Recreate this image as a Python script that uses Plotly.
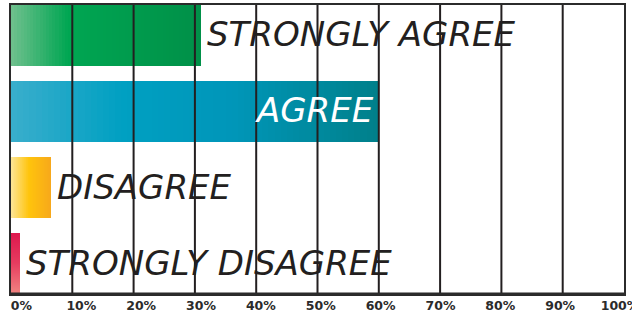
import plotly.graph_objects as go

# ---- data ----
categories = ["STRONGLY AGREE", "AGREE", "DISAGREE", "STRONGLY DISAGREE"]
values = [31, 60, 6.5, 1.5]
tick_values = [0, 10, 20, 30, 40, 50, 60, 70, 80, 90, 100]
tick_labels = ["0%", "10%", "20%", "30%", "40%", "50%", "60%", "70%", "80%", "90%", "100%"]

# ---- styles ----
gradients = {
    "STRONGLY AGREE": [(0.0, (112, 192, 142)), (0.3, (0, 166, 82)), (1.0, (0, 144, 72))],
    "AGREE": [(0.0, (58, 174, 204)), (0.3, (0, 160, 194)), (0.6, (0, 150, 185)), (1.0, (0, 128, 138))],
    "DISAGREE": [(0.0, (253, 229, 150)), (0.45, (255, 196, 12)), (1.0, (247, 168, 27))],
    "STRONGLY DISAGREE": [(0.0, (222, 24, 78)), (0.5, (230, 60, 95)), (1.0, (240, 130, 128))],
}
vertical = {"STRONGLY DISAGREE"}
label_style = {
    "STRONGLY AGREE": dict(side="outside", color="#231f20"),
    "AGREE": dict(side="inside", color="#ffffff"),
    "DISAGREE": dict(side="outside", color="#231f20"),
    "STRONGLY DISAGREE": dict(side="outside", color="#231f20"),
}
BAR_W = 0.8
N = 60
DARK = "#231f20"
LABEL_FONT = "DejaVu Sans"
LABEL_SIZE = 34
# tick labels in the original sit slightly right of their gridlines on the left side
LABEL_AXIS_RANGE = [-1.75, 100.67]


def interp(stops, t):
    for (t0, c0), (t1, c1) in zip(stops, stops[1:]):
        if t <= t1:
            f = 0 if t1 == t0 else (t - t0) / (t1 - t0)
            c = [round(a + (b - a) * f) for a, b in zip(c0, c1)]
            return "rgb(%d,%d,%d)" % tuple(c)
    return "rgb(%d,%d,%d)" % stops[-1][1]


fig = go.Figure()
for cat, val in zip(categories, values):
    stops = gradients[cat]
    if cat in vertical:
        for j in range(N):
            fig.add_trace(go.Bar(
                x=[val], y=[cat], orientation="h",
                width=BAR_W / N * 1.05, offset=-BAR_W / 2 + j * BAR_W / N,
                marker=dict(color=interp(stops, (j + 0.5) / N), line=dict(width=0)),
                hoverinfo="skip", showlegend=False))
    else:
        for i in range(N):
            f = (N - i) / N
            fig.add_trace(go.Bar(
                x=[val * f], y=[cat], orientation="h", width=BAR_W,
                marker=dict(color=interp(stops, f - 0.5 / N), line=dict(width=0)),
                hoverinfo="skip", showlegend=False))

# gridlines above the bars
for tv in tick_values[1:-1]:
    fig.add_shape(type="line", xref="x", yref="paper", x0=tv, x1=tv, y0=0, y1=1,
                  line=dict(color=DARK, width=2), layer="above")
fig.add_shape(type="line", xref="paper", yref="paper", x0=0, x1=1, y0=0, y1=0,
              line=dict(color="#2b2b2b", width=3), layer="above")

for cat, val in zip(categories, values):
    st = label_style[cat]
    inside = st["side"] == "inside"
    fig.add_annotation(x=val, y=cat, text=cat, showarrow=False,
                       xanchor="right" if inside else "left",
                       xshift=-3 if inside else 4, yshift=1,
                       font=dict(family=LABEL_FONT, size=LABEL_SIZE, color=st["color"],
                                 style="italic", weight=300))

fig.update_layout(
    width=632, height=313,
    margin=dict(l=11, r=8, t=5, b=19, autoexpand=False),
    barmode="overlay", bargap=0,
    plot_bgcolor="white", paper_bgcolor="white",
    xaxis=dict(range=[0, 100], showticklabels=False,
               showgrid=False, zeroline=False, showline=True, mirror=True,
               linecolor="#2b2b2b", linewidth=2, ticks="", automargin=False),
    xaxis2=dict(overlaying="x", side="bottom", range=LABEL_AXIS_RANGE,
                tickvals=tick_values, ticktext=tick_labels,
                showgrid=False, zeroline=False, showline=False, ticks="", automargin=False,
                ticklabeloverflow="allow", ticklabelstandoff=2,
                tickfont=dict(family="DejaVu Sans", size=12.5, color="#2b2b2b", weight="bold")),
    yaxis=dict(type="category", categoryorder="array", categoryarray=categories,
               range=[len(categories) - 1 + BAR_W / 2, -BAR_W / 2], automargin=False,
               showticklabels=False, showgrid=False, zeroline=False,
               showline=True, mirror=True, linecolor="#2b2b2b", linewidth=2, ticks=""),
)
# an invisible trace so the label axis is drawn
fig.add_trace(go.Scatter(x=[tick_values[0]], y=[categories[0]], xaxis="x2", mode="markers",
                         marker=dict(opacity=0), hoverinfo="skip", showlegend=False))

fig.write_html("out.html", post_script="document.body.style.margin='0px';",
               config={"displayModeBar": False})
